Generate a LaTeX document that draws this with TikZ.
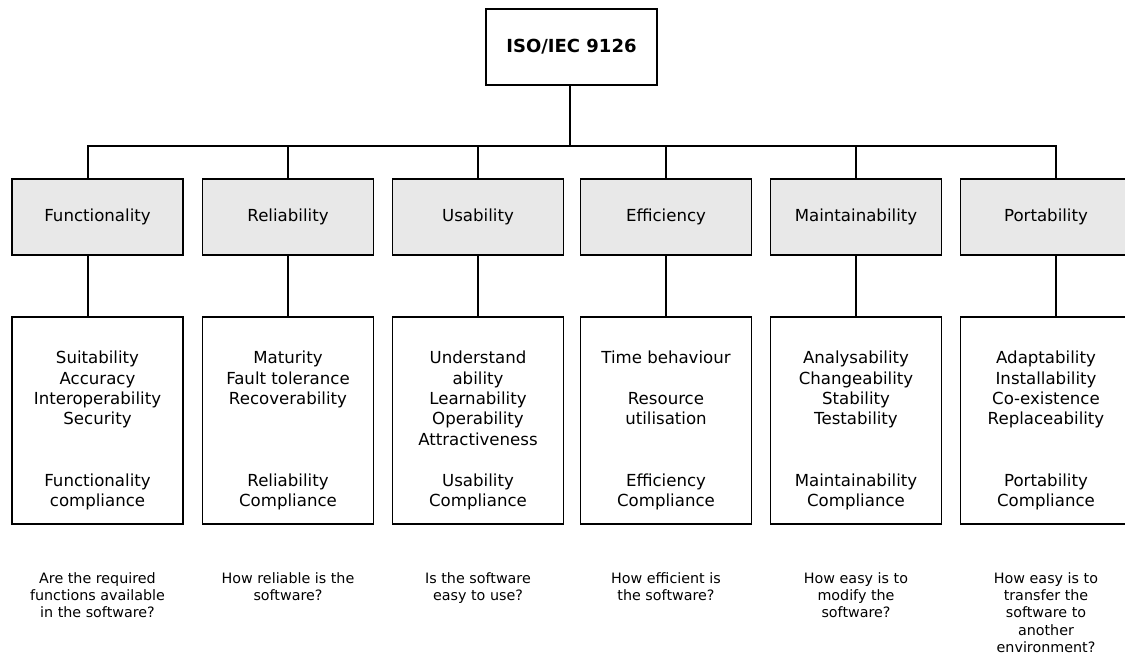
\documentclass[tikz,border=0pt]{standalone}
\usepackage{fontspec}
\setmainfont{DejaVu Sans}
\definecolor{boxgray}{RGB}{232,232,232}
\begin{document}
\begin{tikzpicture}[x=1pt,y=-1pt,
  every node/.style={inner sep=0pt},
  conn/.style={line width=1.4pt},
  topbox/.style={draw, line width=1.4pt, minimum width=171pt, minimum height=76pt, fill=white,
    font=\fontsize{18}{21}\selectfont\bfseries},
  charbox/.style={draw, line width=1.4pt, minimum width=171pt, minimum height=76pt, fill=boxgray,
    font=\fontsize{16.6}{20.4}\selectfont},
  detailbox/.style={draw, line width=1.4pt, minimum width=171pt, minimum height=207pt, fill=white},
  dtext/.style={align=center, font=\fontsize{16.6}{20.4}\selectfont},
  qtext/.style={align=center, anchor=north, font=\fontsize{14.3}{17.4}\selectfont}]

\clip (0,0) rectangle (1125,657);
\fill[white] (0,0) rectangle (1125,657);

\node[topbox] (top) at (571.5,47) {ISO/IEC 9126};

\node[charbox] (f) at (97.5,217) {Functionality};
\node[charbox] (r) at (288,217) {Reliability};
\node[charbox] (u) at (478,217) {Usability};
\node[charbox] (e) at (666,217) {Efficiency};
\node[charbox] (m) at (856,217) {Maintainability};
\node[charbox] (p) at (1046,217) {Portability};

\node[detailbox] (fd) at (97.5,420.5) {};
\node[detailbox] (rd) at (288,420.5) {};
\node[detailbox] (ud) at (478,420.5) {};
\node[detailbox] (ed) at (666,420.5) {};
\node[detailbox] (md) at (856,420.5) {};
\node[detailbox] (pd) at (1046,420.5) {};

\node[dtext] (ft) at (97.5,430.6) {Suitability\\Accuracy\\Interoperability\\Security\\~\\~\\Functionality\\compliance};
\node[dtext] (rt) at (288,430.6) {Maturity\\Fault tolerance\\Recoverability\\~\\~\\~\\Reliability\\Compliance};
\node[dtext] (ut) at (478,430.6) {Understand\\ability\\Learnability\\Operability\\Attractiveness\\~\\Usability\\Compliance};
\node[dtext] (et) at (666,430.6) {Time behaviour\\~\\Resource\\utilisation\\~\\~\\Efficiency\\Compliance};
\node[dtext] (mt) at (856,430.6) {Analysability\\Changeability\\Stability\\Testability\\~\\~\\Maintainability\\Compliance};
\node[dtext] (pt) at (1046,430.6) {Adaptability\\Installability\\Co-existence\\Replaceability\\~\\~\\Portability\\Compliance};

\node[qtext] (fq) at (97.5,572) {Are the required\\functions available\\in the software?};
\node[qtext] (rq) at (288,572) {How reliable is the\\software?};
\node[qtext] (uq) at (478,572) {Is the software\\easy to use?};
\node[qtext] (eq) at (666,572) {How efficient is\\the software?};
\node[qtext] (mq) at (856,572) {How easy is to\\modify the\\software?};
\node[qtext] (pq) at (1046,572) {How easy is to\\transfer the\\software to\\another\\environment?};

\coordinate (bus) at (570,146);
\draw[conn] ([xshift=-1.5pt]top.south) -- ([xshift=-1.5pt]top.south |- bus);
\draw[conn] ([xshift=-9.5pt]f.north) |- ([xshift=10pt]p.north |- bus) -- ([xshift=10pt]p.north);
\foreach \n in {r,u,e,m}{
  \draw[conn] (\n.north) -- (\n.north |- bus);
}
\draw[conn] ([xshift=-9.5pt]f.south) -- ([xshift=-9.5pt]fd.north);
\draw[conn] ([xshift=10pt]p.south) -- ([xshift=10pt]pd.north);
\draw[conn] (r.south) -- (rd.north);
\draw[conn] (u.south) -- (ud.north);
\draw[conn] (e.south) -- (ed.north);
\draw[conn] (m.south) -- (md.north);
\end{tikzpicture}
\end{document}
